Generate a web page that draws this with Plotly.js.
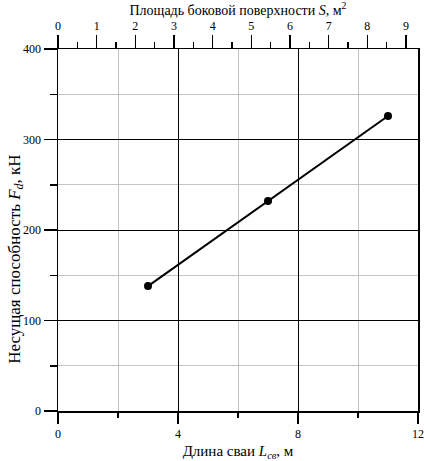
<!DOCTYPE html>
<html><head><meta charset="utf-8">
<script src="https://cdn.plot.ly/plotly-3.0.1.min.js"></script>
<style>body{margin:0;padding:0;background:#fff}#chart{width:424px;height:461px}</style>
</head><body><div id="chart"></div>
<script>
const pileLength = [3, 7, 11];
const capacity = [138, 232, 326];
const xTicks = [0, 4, 8, 12];
const yTicks = [0, 100, 200, 300, 400];
const sTicks = [0, 1, 2, 3, 4, 5, 6, 7, 8, 9];
const sRange = [0, 9.31];
const yTitle = 'Несущая способность <i>F<sub>d</sub></i>, кН';

const FAM = 'Liberation Serif';
const font = {family: FAM, color: '#000', size: 12};
const tfont = {family: FAM, color: '#000', size: 14};

const traces = [
  {x: pileLength, y: capacity, type: 'scatter', mode: 'lines+markers',
   line: {color: '#000', width: 2}, marker: {color: '#000', size: 8},
   xaxis: 'x', yaxis: 'y', hoverinfo: 'none'},
  {x: sRange, y: [null, null], type: 'scatter', mode: 'markers',
   xaxis: 'x2', yaxis: 'y', showlegend: false, hoverinfo: 'none'}
];

const layout = {
  width: 424, height: 461,
  margin: {l: 58, r: 6, t: 49, b: 50},
  paper_bgcolor: '#fff', plot_bgcolor: '#fff',
  showlegend: false, font: font,
  xaxis: {
    range: [0, 12], tickvals: xTicks, ticktext: xTicks.map(String),
    showline: true, linecolor: '#000', linewidth: 1.5, mirror: true,
    ticks: 'outside', ticklen: 11, tickwidth: 1.5, tickcolor: '#000',
    showgrid: true, gridcolor: '#000', gridwidth: 1, zeroline: false,
    minor: {dtick: 2, ticks: 'outside', ticklen: 5, tickwidth: 1.5, tickcolor: '#000',
            showgrid: true, gridcolor: '#c4c4c4', gridwidth: 1},
    tickfont: font,
    title: {text: 'Длина сваи <i>L<sub style="font-size:13px">св</sub></i>, м', font: {family: FAM, color: '#000', size: 15}, standoff: 5},
    automargin: false
  },
  xaxis2: {
    range: sRange, overlaying: 'x', side: 'top', anchor: 'y',
    tickvals: sTicks, ticktext: sTicks.map(String),
    showline: true, linecolor: '#000', linewidth: 1.5,
    ticks: 'outside', ticklen: 13, tickwidth: 1.5, tickcolor: '#000',
    minor: {dtick: 0.5, ticks: 'outside', ticklen: 6, tickwidth: 1.5, tickcolor: '#000', showgrid: false},
    showgrid: false, zeroline: false, tickfont: font,
    title: {text: 'Площадь боковой поверхности <i>S</i>, м<sup style="font-size:14px">2</sup>', font: tfont, standoff: 2},
    automargin: false
  },
  yaxis: {
    range: [0, 400], tickvals: yTicks, ticktext: yTicks.map(String),
    showline: true, linecolor: '#000', linewidth: 1.5, mirror: true,
    ticks: 'outside', ticklen: 13, tickwidth: 1.5, tickcolor: '#000',
    showgrid: true, gridcolor: '#000', gridwidth: 1, zeroline: false,
    minor: {dtick: 50, ticks: 'outside', ticklen: 7, tickwidth: 1.5, tickcolor: '#000',
            showgrid: true, gridcolor: '#c4c4c4', gridwidth: 1},
    tickfont: font,
    automargin: false
  },
  annotations: [{
    text: yTitle, textangle: -90, showarrow: false,
    xref: 'paper', yref: 'paper', x: -0.117, y: 0.42,
    xanchor: 'center', yanchor: 'middle',
    font: {family: FAM, color: '#000', size: 17}
  }]
};

Plotly.newPlot('chart', traces, layout, {displayModeBar: false, staticPlot: true});
</script></body></html>
